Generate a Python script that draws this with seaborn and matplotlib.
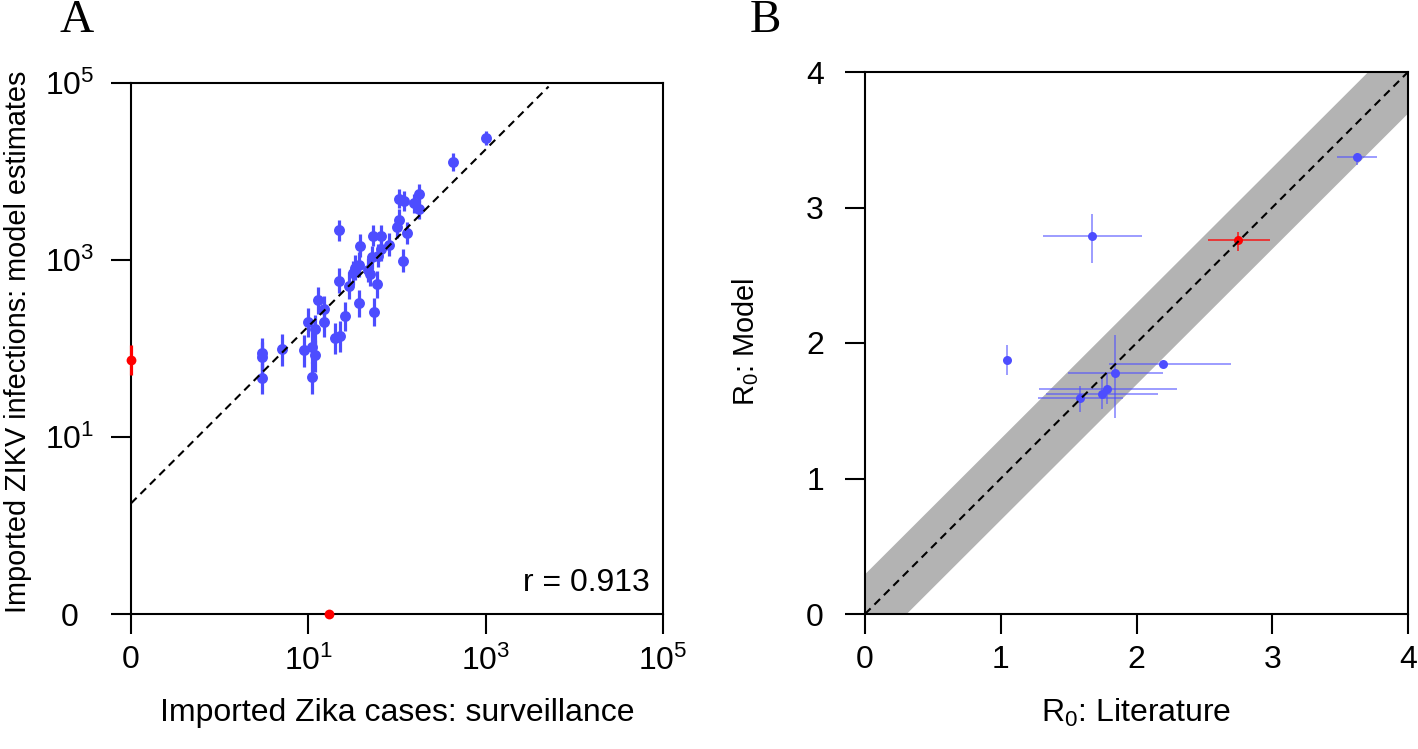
import numpy as np
import pandas as pd
import matplotlib
matplotlib.use("Agg")
import matplotlib.pyplot as plt
import seaborn as sns

# ---------------- Panel A data ----------------
surv_cases = [1000, 431, 104, 120, 177, 157, 176, 106, 99, 131, 22, 53, 66, 38, 81,
              66, 52, 61, 116, 37, 34, 32, 47, 50, 22, 29, 60, 37, 55, 13,
              15, 10, 12, 15, 26, 20, 23, 3, 3, 5, 9, 11, 12, 3, 11]
model_est = [24100, 12700, 4930, 4640, 5610, 4370, 3740, 2830, 2360, 2020, 2170, 1880, 1880, 1450, 1480,
             1330, 1070, 1120, 982, 885, 819, 713, 771, 695, 583, 513, 531, 324, 261, 353,
             277, 198, 167, 198, 233, 132, 138, 88, 81, 99, 96, 105, 85, 47, 48]
err_up = [0.08, 0.1, 0.11, 0.11, 0.11, 0.11, 0.11, 0.12, 0.12, 0.12, 0.12, 0.12, 0.12, 0.13, 0.13,
          0.13, 0.13, 0.13, 0.13, 0.14, 0.14, 0.14, 0.14, 0.14, 0.14, 0.15, 0.15, 0.15, 0.15, 0.15,
          0.15, 0.16, 0.16, 0.16, 0.16, 0.17, 0.17, 0.17, 0.17, 0.17, 0.17, 0.17, 0.17, 0.16, 0.17]
err_dn = [0.08, 0.1, 0.11, 0.11, 0.11, 0.11, 0.11, 0.12, 0.12, 0.12, 0.12, 0.12, 0.12, 0.13, 0.13,
          0.13, 0.13, 0.13, 0.13, 0.14, 0.14, 0.14, 0.14, 0.14, 0.14, 0.15, 0.15, 0.15, 0.16, 0.16,
          0.16, 0.17, 0.17, 0.17, 0.17, 0.18, 0.18, 0.19, 0.19, 0.19, 0.19, 0.19, 0.19, 0.19, 0.19]
# red points: zero surveillance / zero model
zero_surv_model = [74]
zero_surv_err = [0.17]
zero_model_surv = [17]
fit_log_intercept = 1.25
fit_slope = 1.0
fit_x_range = [0.1, 10 ** 3.71]
r_text = "r = 0.913"
a_ticks = [0, 10, 1000, 100000]
a_ticklabels = ["0", r"$\mathregular{10^1}$", r"$\mathregular{10^3}$", r"$\mathregular{10^5}$"]

# ---------------- Panel B data ----------------
r0_lit = [1.675, 1.044, 2.195, 1.844, 1.785, 1.743, 1.584, 3.622]
r0_lit_lo = [1.313, 1.044, 1.797, 1.498, 1.284, 1.333, 1.272, 3.48]
r0_lit_hi = [2.038, 1.044, 2.696, 2.197, 2.296, 2.156, 1.898, 3.77]
r0_mod = [2.79, 1.875, 1.847, 1.778, 1.663, 1.626, 1.592, 3.373]
r0_mod_lo = [2.59, 1.764, 1.83, 1.444, 1.55, 1.51, 1.493, 3.31]
r0_mod_hi = [2.95, 1.985, 1.865, 2.059, 1.776, 1.747, 1.683, 3.40]
red_lit, red_lit_lo, red_lit_hi = [2.745], [2.53], [2.98]
red_mod, red_mod_lo, red_mod_hi = [2.758], [2.68], [2.82]
band_halfwidth = 0.3
b_ticks = [0, 1, 2, 3, 4]

BLUE = "#4D4DFF"
RED = "#FF0000"
FS = 23
FS_YLAB = 20.8

sns.set_style("white")
plt.rcParams["font.family"] = ["Liberation Sans", "DejaVu Sans"]
plt.rcParams["mathtext.fontset"] = "custom"
plt.rcParams["mathtext.rm"] = "Liberation Sans"
plt.rcParams["text.color"] = "black"
plt.rcParams["axes.labelcolor"] = "black"
plt.rcParams["xtick.color"] = "black"
plt.rcParams["ytick.color"] = "black"

W, H = 1418, 749
fig = plt.figure(figsize=(W / 100, H / 100), dpi=100)

def ax_rect(l, r, t, b):
    return [l / W, 1 - b / H, (r - l) / W, (b - t) / H]

axA = fig.add_axes(ax_rect(131, 663, 83, 614))
axB = fig.add_axes(ax_rect(865, 1408, 72, 614))

def fwd(v):
    return np.log10(np.maximum(v, 0.1))

def inv(v):
    return 10.0 ** np.asarray(v)

for ax in (axA, axB):
    for s in ax.spines.values():
        s.set_linewidth(1.5)
        s.set_color("black")
    ax.tick_params(direction="out", length=14.5, width=1.5, labelsize=FS,
                   colors="black", labelcolor="black", bottom=True, left=True)
    ax.tick_params(axis="x", pad=8)
axA.tick_params(axis="y", pad=29.4)
axB.tick_params(axis="y", pad=21.5)

# ---- Panel A ----
axA.set_xscale("function", functions=(fwd, inv))
axA.set_yscale("function", functions=(fwd, inv))
axA.set_xlim(0, 1e5)
axA.set_ylim(0, 1e5)

dfA = pd.DataFrame({"cases": surv_cases, "model": model_est})
y = np.array(model_est, dtype=float)
lo = y - y / 10 ** np.array(err_dn)
hi = y * 10 ** np.array(err_up) - y
axA.errorbar(surv_cases, model_est, yerr=[lo, hi], fmt="none", ecolor=BLUE,
             elinewidth=2.3, capsize=0, zorder=2)
sns.scatterplot(data=dfA, x="cases", y="model", ax=axA, color=BLUE, s=62,
                linewidth=0, zorder=3, legend=False)

zy = np.array(zero_surv_model, dtype=float)
axA.errorbar([0], zero_surv_model,
             yerr=[zy - zy / 10 ** np.array(zero_surv_err), zy * 10 ** np.array(zero_surv_err) - zy],
             fmt="none", ecolor=RED, elinewidth=2.3, capsize=0, zorder=4, clip_on=False)
axA.scatter([0], zero_surv_model, color=RED, s=50, linewidth=0, zorder=5, clip_on=False)
axA.scatter(zero_model_surv, [0], color=RED, s=50, linewidth=0, zorder=5, clip_on=False)

fx = np.array(fit_x_range)
fy = 10 ** fit_log_intercept * fx ** fit_slope
axA.plot(fx, fy, color="black", lw=1.5, linestyle=(0, (3.8, 2.6)), zorder=6)

axA.set_xticks(a_ticks)
axA.set_xticklabels(a_ticklabels)
axA.set_yticks(a_ticks)
axA.set_yticklabels(a_ticklabels, ha="center")
axA.xaxis.set_minor_locator(matplotlib.ticker.NullLocator())
axA.yaxis.set_minor_locator(matplotlib.ticker.NullLocator())
axA.set_xlabel("")
axA.set_ylabel("")
axA.text(0.976, 0.058, r_text, transform=axA.transAxes, ha="right", va="center", fontsize=FS)

# ---- Panel B ----
axB.set_xlim(0, 4)
axB.set_ylim(0, 4)
diag = np.array([0.0, 4.0])
axB.fill_between(diag, diag - band_halfwidth, diag + band_halfwidth, color="#B3B3B3",
                 linewidth=0, zorder=1)

lit = np.array(r0_lit); mod = np.array(r0_mod)
axB.errorbar(r0_lit, r0_mod,
             xerr=[lit - np.array(r0_lit_lo), np.array(r0_lit_hi) - lit],
             yerr=[mod - np.array(r0_mod_lo), np.array(r0_mod_hi) - mod],
             fmt="none", ecolor=BLUE, alpha=0.65, elinewidth=1.2, capsize=0, zorder=2)
dfB = pd.DataFrame({"lit": r0_lit, "mod": r0_mod})
sns.scatterplot(data=dfB, x="lit", y="mod", ax=axB, color=BLUE, s=42, linewidth=0,
                zorder=3, legend=False)
rl = np.array(red_lit); rm = np.array(red_mod)
axB.errorbar(red_lit, red_mod,
             xerr=[rl - np.array(red_lit_lo), np.array(red_lit_hi) - rl],
             yerr=[rm - np.array(red_mod_lo), np.array(red_mod_hi) - rm],
             fmt="none", ecolor=RED, alpha=0.8, elinewidth=1.2, capsize=0, zorder=2)
axB.scatter(red_lit, red_mod, color=RED, s=42, linewidth=0, zorder=3)
axB.plot(diag, diag, color="black", lw=1.5, linestyle=(0, (3.8, 2.6)), zorder=6)

axB.set_xticks(b_ticks)
axB.set_yticks(b_ticks)
axB.set_xticklabels([str(t) for t in b_ticks])
axB.set_yticklabels([str(t) for t in b_ticks], ha="center")
axB.set_xlabel("")
axB.set_ylabel("")

# ---- axis titles & panel letters ----
fig.text(397 / W, 1 - 713 / H, "Imported Zika cases: surveillance", ha="center", va="center", fontsize=FS)
fig.text(18 / W, 1 - 342 / H, "Imported ZIKV infections: model estimates", ha="center", va="center",
         rotation=90, fontsize=FS_YLAB)
fig.text(1136 / W, 1 - 713 / H, r"$\mathregular{R_0}$: Literature", ha="center", va="center", fontsize=FS)
fig.text(746 / W, 1 - 342 / H, r"$\mathregular{R_0}$: Model", ha="center", va="center",
         rotation=90, fontsize=FS_YLAB)
fig.text(77 / W, 1 - 21 / H, "A", ha="center", va="center", fontsize=34, family="Liberation Serif")
fig.text(765 / W, 1 - 21 / H, "B", ha="center", va="center", fontsize=34, family="Liberation Serif")

fig.savefig("out.png", dpi=100, facecolor="white")
